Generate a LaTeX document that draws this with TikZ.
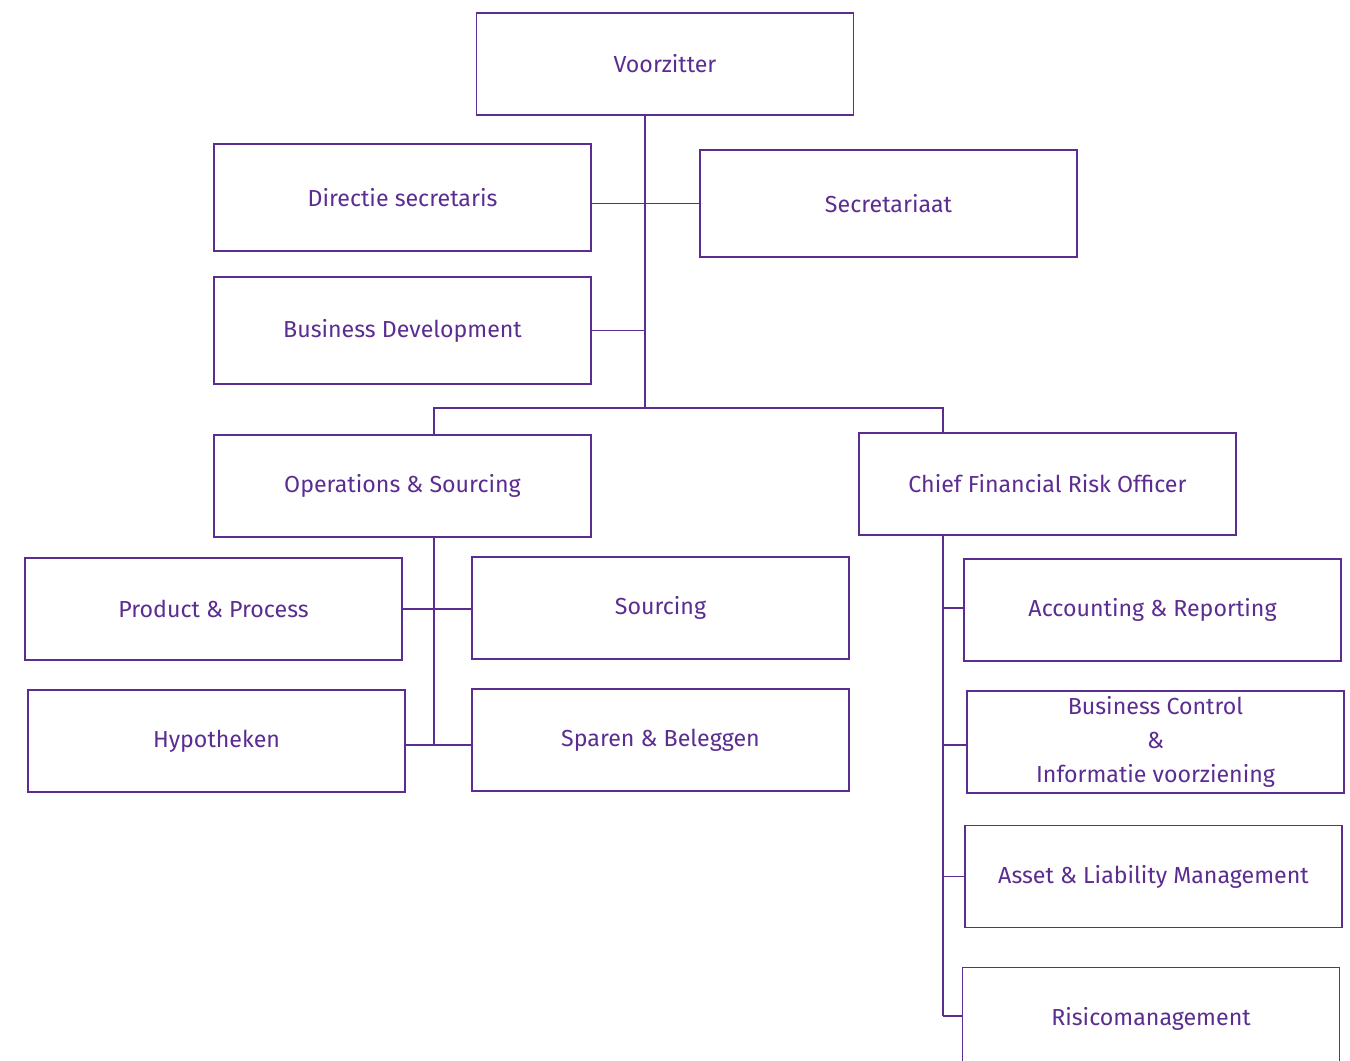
\documentclass[tikz,border=0pt]{standalone}
\usepackage{fontspec}
\setmainfont{Fira Sans}
\usepackage{xcolor}
\definecolor{OrgPurple}{HTML}{5C2D91}
\usepackage{tikz}
\usetikzlibrary{calc,positioning}

\begin{document}
\begin{tikzpicture}[
        x=0.02cm, y=-0.02cm,
        unit/.style={rectangle, draw=OrgPurple, line width=0.85pt, fill=white, minimum width=7.54cm, minimum height=2.04cm, align=center, text=OrgPurple, font=\fontsize{13.2}{19.5}\selectfont, inner sep=0pt},
        tall/.style={unit, minimum height=2.14cm},
        link/.style={draw=OrgPurple, line width=0.85pt}
    ]
        \useasboundingbox (0,0) rectangle (1350,1061);

        % Board
        \node[unit] (voorz) at (665,64) {Voorzitter};
        \node[tall] (dirsec) at (402.5,197.5) {Directie secretaris};
        \node[tall] (secr) at (888.5,203.5) {Secretariaat};
        \node[tall] (busdev) at (402.5,330.5) {Business Development};

        % Departments
        \node[unit] (ops) at (402.5,486) {Operations \& Sourcing};
        \node[unit] (cfo) at (1047.5,484) {Chief Financial Risk Officer};

        % Operations & Sourcing
        \node[unit] (prodproc) at (213.5,609) {Product \& Process};
        \node[unit] (sourcing) at (660.5,608) {Sourcing};
        \node[unit] (hypo) at (216.5,741) {Hypotheken};
        \node[unit] (sparen) at (660.5,740) {Sparen \& Beleggen};

        % Chief Financial Risk Officer
        \node[unit] (accrep) at (1152.5,610) {Accounting \& Reporting};
        \node[unit] (buscon) at (1155.5,742) {Business Control\\\&\\Informatie voorziening};
        \node[unit] (alm) at (1153.5,876.5) {Asset \& Liability Management};
        \node[unit, anchor=north] (risico) at (1151,967) {Risicomanagement};

        % Spine
        \coordinate (spine) at (645,408);
        \coordinate (opsdrop) at (434,408);
        \coordinate (cfodrop) at (943,408);
        \draw[link] (spine |- voorz.south) -- (spine);
        \draw[link] (secr.west -| dirsec.east) -- (secr.west);
        \draw[link] (busdev.east) -- (busdev.east -| spine);
        \draw[link] (opsdrop |- ops.north) -- (opsdrop) -- (cfodrop) -- (cfodrop |- cfo.north);

        % Operations branches
        \coordinate (opsend) at (434,745);
        \draw[link] (opsend |- ops.south) -- (opsend);
        \draw[link] (prodproc.east) -- (prodproc.east -| sourcing.west);
        \draw[link] (hypo.east |- opsend) -- (sparen.west |- opsend);

        % CFO branches
        \coordinate (cfoend) at (943,1016);
        \draw[link] (cfoend |- cfo.south) -- (cfoend);
        \draw[link] (cfoend |- sourcing.east) -- (accrep.west |- sourcing.east);
        \draw[link] (cfoend |- opsend) -- (buscon.west |- opsend);
        \draw[link] (cfoend |- alm.west) -- (alm.west);
        \draw[link] (cfoend) -- (risico.west |- cfoend);

    \end{tikzpicture}
\end{document}
